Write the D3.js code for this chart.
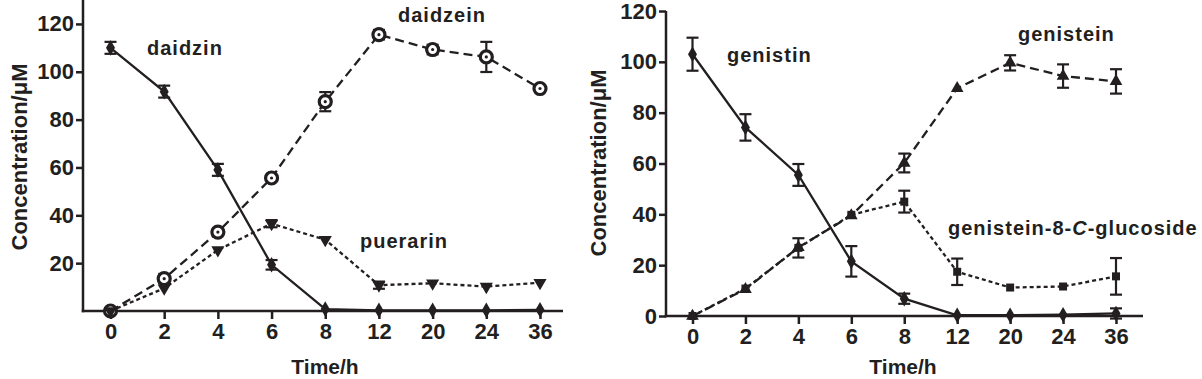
<!DOCTYPE html>
<html>
<head>
<meta charset="utf-8">
<script src="https://cdn.jsdelivr.net/npm/d3@7"></script>
<style>
  html, body { margin: 0; padding: 0; background: #fff; }
  svg { display: block; }
  text { font-family: "Liberation Sans", Arial, sans-serif; fill: #231f20; }
</style>
</head>
<body>
<svg id="chart" width="1202" height="379"></svg>
<script>
// ---------- data ----------
const times = ["0", "2", "4", "6", "8", "12", "20", "24", "36"];

// Panel A
const daidzin     = [110, 91.7, 59, 19.3, 0.8, 0.3, 0.3, 0.3, 0.5];
const daidzinErr  = [2.5, 2.5, 2.5, 2, 0, 0, 0, 0, 0];
const daidzein    = [0, 13.5, 33, 55.6, 87.5, 115.5, 109.3, 106.2, 93];
const daidzeinErr = [0, 2, 1, 1, 4, 2, 2, 6.3, 1];
const puerarin    = [0, 9.5, 25.5, 36.5, 29.8, 10.8, 11.6, 10.2, 11.8];
const puerarinErr = [0, 0, 0, 1.5, 0, 1.5, 0, 0, 0];
const yTicksA = [20, 40, 60, 80, 100, 120];

// Panel B
const genistin      = [103, 74.2, 55.5, 21.5, 6.8, 0.3, 0.3, 0.5, 1];
const genistinErr   = [6.5, 5.2, 4.3, 6, 2, 0, 0, 0, 2];
const genistein     = [0, 10.5, 27, 39.5, 60.2, 89.6, 99.6, 94.4, 92.3];
const genisteinErr  = [0, 0, 0, 0, 3.7, 0, 3, 4.6, 4.8];
const glucoside     = [0, 10.8, 26.8, 39.8, 45, 17.4, 11.2, 11.6, 15.6];
const glucosideErr  = [0, 0, 3.8, 0, 4.3, 5.2, 0, 0, 7.2];
const yTicksB = [0, 20, 40, 60, 80, 100, 120];

// ---------- drawing ----------
const INK = "#231f20";
const svg = d3.select("#chart");

function panel(cfg) {
  const g = svg.append("g");
  const x = d3.scalePoint().domain(times).range(cfg.xRange);
  const y = d3.scaleLinear().domain(cfg.yDomain).range(cfg.yRange);

  // axes
  const yAxis = d3.axisLeft(y).tickValues(cfg.yTicks).tickSize(7).tickPadding(2).tickSizeOuter(0);
  const ya = g.append("g").attr("transform", `translate(${cfg.axisX},0)`).call(yAxis);
  ya.select(".domain").remove();
  ya.selectAll(".tick line").attr("stroke", INK).attr("stroke-width", 2.5);
  ya.selectAll(".tick text").attr("font-size", 22).attr("font-weight", "bold").attr("fill", INK)
    .attr("font-family", "Liberation Sans, Arial, sans-serif");

  const xAxis = d3.axisBottom(x).tickSize(8).tickPadding(4).tickSizeOuter(0);
  const xa = g.append("g").attr("transform", `translate(0,${cfg.yRange[0]})`).call(xAxis);
  xa.select(".domain").remove();
  xa.selectAll(".tick line").attr("stroke", INK).attr("stroke-width", 2.5);
  xa.selectAll(".tick text").attr("font-size", 22).attr("font-weight", "bold").attr("fill", INK)
    .attr("font-family", "Liberation Sans, Arial, sans-serif");

  // axis lines
  g.append("line").attr("x1", cfg.axisX).attr("x2", cfg.axisX)
    .attr("y1", cfg.yRange[0] + 1.25).attr("y2", cfg.yRange[1])
    .attr("stroke", INK).attr("stroke-width", 2.5);
  g.append("line").attr("x1", cfg.axisX - 1.25).attr("x2", cfg.xAxisEnd)
    .attr("y1", cfg.yRange[0]).attr("y2", cfg.yRange[0])
    .attr("stroke", INK).attr("stroke-width", 2.5);

  // axis titles
  g.append("text").attr("x", cfg.xTitle[0]).attr("y", cfg.xTitle[1])
    .attr("text-anchor", "middle").attr("font-size", 21).attr("font-weight", "bold").text("Time/h");
  g.append("text").attr("transform", `translate(${cfg.yTitle[0]},${cfg.yTitle[1]}) rotate(-90)`)
    .attr("text-anchor", "middle").attr("font-size", 22).attr("font-weight", "bold").text("Concentration/\u03bcM");

  const line = d3.line().x((d, i) => x(times[i])).y(d => y(d));

  cfg.series.forEach(s => {
    g.append("path").datum(s.values).attr("d", line).attr("fill", "none")
      .attr("stroke", INK).attr("stroke-width", 2.3)
      .attr("stroke-dasharray", s.dash || null);
  });

  cfg.series.forEach(s => {
    // error bars
    s.values.forEach((v, i) => {
      const e = s.err[i];
      if (!e) return;
      const cx = x(times[i]);
      g.append("line").attr("x1", cx).attr("x2", cx).attr("y1", y(v - e)).attr("y2", y(v + e))
        .attr("stroke", INK).attr("stroke-width", 2.2);
      [v - e, v + e].forEach(t => {
        g.append("line").attr("x1", cx - 6).attr("x2", cx + 6).attr("y1", y(t)).attr("y2", y(t))
          .attr("stroke", INK).attr("stroke-width", 2.2);
      });
    });
    // markers
    s.values.forEach((v, i) => {
      const cx = x(times[i]), cy = y(v);
      if (s.marker === "circle") {
        g.append("circle").attr("cx", cx).attr("cy", cy).attr("r", 6)
          .attr("fill", "#fff").attr("stroke", INK).attr("stroke-width", 3.2);
        g.append("circle").attr("cx", cx).attr("cy", cy).attr("r", 1.6).attr("fill", INK);
      } else {
        const sym = { diamond: d3.symbolDiamond, triUp: d3.symbolTriangle, triDown: d3.symbolTriangle, square: d3.symbolSquare }[s.marker];
        const rot = s.marker === "triDown" ? 180 : 0;
        g.append("path").attr("d", d3.symbol(sym, s.size || 60)())
          .attr("transform", `translate(${cx},${cy}) rotate(${rot})`)
          .attr("fill", INK);
      }
    });
  });

  cfg.labels.forEach(l => {
    g.append("text").attr("x", l.x).attr("y", l.y).attr("font-size", 20).attr("font-weight", "bold")
      .attr("letter-spacing", 1).html(l.html);
  });
}

panel({
  xRange: [110.5, 540], axisX: 83, xAxisEnd: 563,
  yDomain: [0, 130], yRange: [311, 0], yTicks: yTicksA,
  xTitle: [325, 374], yTitle: [27, 157],
  series: [
    { values: daidzin, err: daidzinErr, marker: "diamond", size: 70 },
    { values: daidzein, err: daidzeinErr, marker: "circle", dash: "9,5" },
    { values: puerarin, err: puerarinErr, marker: "triDown", size: 75, dash: "4,3" }
  ],
  labels: [
    { x: 147, y: 55, html: "daidzin" },
    { x: 398, y: 22, html: "daidzein" },
    { x: 360, y: 248, html: "puerarin" }
  ]
});

panel({
  xRange: [692.5, 1116], axisX: 666, xAxisEnd: 1143,
  yDomain: [0, 120], yRange: [316, 11], yTicks: yTicksB,
  xTitle: [903, 374], yTitle: [606, 163],
  series: [
    { values: genistin, err: genistinErr, marker: "diamond", size: 70 },
    { values: genistein, err: genisteinErr, marker: "triUp", size: 70, dash: "9,5" },
    { values: glucoside, err: glucosideErr, marker: "square", size: 64, dash: "4,3" }
  ],
  labels: [
    { x: 727, y: 62, html: "genistin" },
    { x: 1018, y: 41, html: "genistein" },
    { x: 948, y: 235, html: "genistein-8-<tspan font-style=\"italic\">C</tspan>-glucoside" }
  ]
});
</script>
</body>
</html>
